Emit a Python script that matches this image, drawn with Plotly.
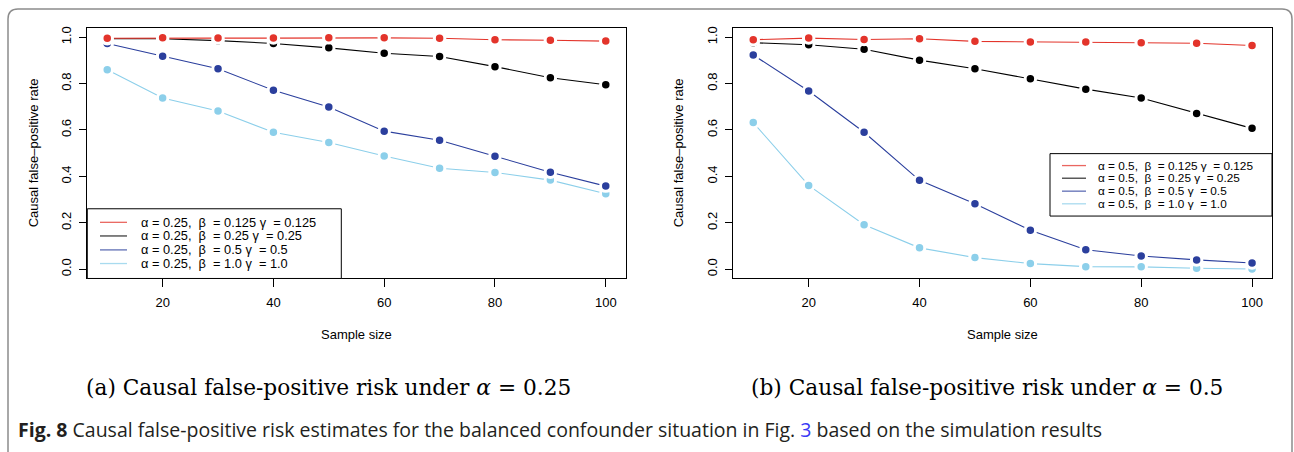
import plotly.graph_objects as go

# Figure size in pixels
W, H = 1294, 452

# ---------------- data ----------------
sample_size = [10, 20, 30, 40, 50, 60, 70, 80, 90, 100]
x_ticks = [20, 40, 60, 80, 100]
y_ticks = [0.0, 0.2, 0.4, 0.6, 0.8, 1.0]
y_tick_labels = ["0.0", "0.2", "0.4", "0.6", "0.8", "1.0"]

# Panel (a): alpha = 0.25
fpr_a25_b0125 = [0.995, 0.997, 0.996, 0.996, 0.998, 0.997, 0.995, 0.989, 0.987, 0.983]
fpr_a25_b025 = [0.993, 0.993, 0.985, 0.973, 0.954, 0.931, 0.917, 0.873, 0.825, 0.795]
fpr_a25_b05 = [0.973, 0.918, 0.864, 0.771, 0.699, 0.595, 0.556, 0.487, 0.418, 0.358]
fpr_a25_b1 = [0.860, 0.738, 0.682, 0.590, 0.546, 0.488, 0.435, 0.417, 0.384, 0.325]

# Panel (b): alpha = 0.5
fpr_a5_b0125 = [0.989, 0.996, 0.990, 0.993, 0.982, 0.979, 0.979, 0.976, 0.974, 0.964]
fpr_a5_b025 = [0.976, 0.967, 0.948, 0.901, 0.864, 0.821, 0.776, 0.738, 0.671, 0.607]
fpr_a5_b05 = [0.923, 0.768, 0.590, 0.383, 0.282, 0.168, 0.084, 0.057, 0.040, 0.027]
fpr_a5_b1 = [0.632, 0.361, 0.192, 0.092, 0.050, 0.024, 0.011, 0.010, 0.004, 0.001]

NB = "\u00a0"
labels_a = [
    f"α = 0.25,{NB*2}β{NB*2}= 0.125 γ{NB*2}= 0.125",
    f"α = 0.25,{NB*2}β{NB*2}= 0.25 γ{NB*2}= 0.25",
    f"α = 0.25,{NB*2}β{NB*2}= 0.5 γ{NB*2}= 0.5",
    f"α = 0.25,{NB*2}β{NB*2}= 1.0 γ{NB*2}= 1.0",
]
labels_b = [
    f"α = 0.5,{NB*2}β{NB*2}= 0.125 γ{NB*2}= 0.125",
    f"α = 0.5,{NB*2}β{NB*2}= 0.25 γ{NB*2}= 0.25",
    f"α = 0.5,{NB*2}β{NB*2}= 0.5 γ{NB*2}= 0.5",
    f"α = 0.5,{NB*2}β{NB*2}= 1.0 γ{NB*2}= 1.0",
]
colors = ["#e3342b", "#000000", "#2b3f9d", "#8ccfea"]

series_a = [fpr_a25_b0125, fpr_a25_b025, fpr_a25_b05, fpr_a25_b1]
series_b = [fpr_a5_b0125, fpr_a5_b025, fpr_a5_b05, fpr_a5_b1]

FONT = "Liberation Sans, Arial, sans-serif"


def px(x):
    return x / W


def py(y):
    return 1 - y / H


fig = go.Figure()

# draw order: light blue first, red last
for axis_id, series in (("", series_a), ("2", series_b)):
    for i in (3, 2, 1, 0):
        fig.add_trace(go.Scatter(
            x=sample_size, y=series[i], mode="lines+markers",
            xaxis="x" + axis_id, yaxis="y" + axis_id,
            line=dict(color=colors[i], width=1.1),
            marker=dict(color=colors[i], size=10.5, line=dict(color="white", width=3)),
            showlegend=False, hoverinfo="x+y",
        ))

axis_common = dict(
    showline=True, mirror=True, linecolor="black", linewidth=1,
    showgrid=False, zeroline=False, ticks="outside", tickcolor="black",
    tickfont=dict(family=FONT, size=13, color="black"),
)

x_dom_a = [px(87.3), px(625.7)]
x_dom_b = [px(733.3), px(1272.0)]
y_dom = [py(277.7), py(26.0)]

fig.update_layout(
    width=W, height=H,
    margin=dict(l=0, r=0, t=0, b=0),
    paper_bgcolor="white", plot_bgcolor="white",
    xaxis=dict(domain=x_dom_a, range=[6.4, 103.6], tickvals=x_ticks, ticklen=8,
               ticklabelstandoff=4, anchor="y", **axis_common),
    yaxis=dict(domain=y_dom, range=[-0.04, 1.04], tickvals=y_ticks, ticktext=y_tick_labels,
               tickangle=-90, ticklen=7, ticklabelstandoff=3, anchor="x", **axis_common),
    xaxis2=dict(domain=x_dom_b, range=[6.4, 103.6], tickvals=x_ticks, ticklen=8,
                ticklabelstandoff=4, anchor="y2", **axis_common),
    yaxis2=dict(domain=y_dom, range=[-0.04, 1.04], tickvals=y_ticks, ticktext=y_tick_labels,
                tickangle=-90, ticklen=7, ticklabelstandoff=3, anchor="x2", **axis_common),
)

shapes = []
annotations = []

# outer rounded frame, open at the bottom
fl, fr, ft, r = 8, 1292, 7, 10
frame_path = (
    f"M {px(fl)} {py(H + 5)} L {px(fl)} {py(ft + r)} "
    f"Q {px(fl)} {py(ft)} {px(fl + r)} {py(ft)} "
    f"L {px(fr - r)} {py(ft)} "
    f"Q {px(fr)} {py(ft)} {px(fr)} {py(ft + r)} "
    f"L {px(fr)} {py(H + 5)}"
)
shapes.append(dict(type="path", xref="paper", yref="paper", path=frame_path,
                   line=dict(color="#8c8c8c", width=1.5)))


def add_legend(box, line_x, text_x, rows, labels, font_size):
    x0, y0, x1, y1 = box
    shapes.append(dict(type="rect", xref="paper", yref="paper",
                       x0=px(x0), x1=px(x1), y0=py(y1), y1=py(y0),
                       line=dict(color="black", width=1), fillcolor="white"))
    for i, (yy, lab) in enumerate(zip(rows, labels)):
        shapes.append(dict(type="line", xref="paper", yref="paper",
                           x0=px(line_x[0]), x1=px(line_x[1]), y0=py(yy), y1=py(yy),
                           line=dict(color=colors[i], width=1.3), opacity=0.75))
        annotations.append(dict(xref="paper", yref="paper", x=px(text_x), y=py(yy),
                                xanchor="left", yanchor="middle", showarrow=False,
                                text=lab, font=dict(family=FONT, size=font_size, color="black")))


add_legend((87.3, 207.7, 341.3, 277.7), (100, 127), 139, [221.3, 235.0, 249.0, 262.7], labels_a, 12.8)
add_legend((1050.0, 152.3, 1272.0, 215.0), (1062, 1086), 1096, [164.3, 177.0, 190.0, 202.7], labels_b, 11.8)

# axis titles
for cx, ty_x in ((356.5, 33.0), (1002.6, 678.0)):
    annotations.append(dict(xref="paper", yref="paper", x=px(cx), y=py(334), showarrow=False,
                            xanchor="center", yanchor="middle", text="Sample size",
                            font=dict(family=FONT, size=13, color="black")))
    annotations.append(dict(xref="paper", yref="paper", x=px(ty_x), y=py(152), showarrow=False,
                            xanchor="center", yanchor="middle", textangle=-90,
                            text="Causal false\u2013positive rate",
                            font=dict(family=FONT, size=13, color="black")))

# sub-figure captions
SERIF = "DejaVu Serif, Liberation Serif, serif"
annotations.append(dict(xref="paper", yref="paper", x=px(328.5), y=py(387), showarrow=False,
                        xanchor="center", yanchor="middle",
                        text="(a) Causal false-positive risk under <i>α</i> = 0.25",
                        font=dict(family=SERIF, size=21.7, color="black")))
annotations.append(dict(xref="paper", yref="paper", x=px(987), y=py(387), showarrow=False,
                        xanchor="center", yanchor="middle",
                        text="(b) Causal false-positive risk under <i>α</i> = 0.5",
                        font=dict(family=SERIF, size=21.7, color="black")))

# figure caption
annotations.append(dict(xref="paper", yref="paper", x=px(16), y=py(429), showarrow=False,
                        xanchor="left", yanchor="middle",
                        text="<b>Fig. 8</b> Causal false-positive risk estimates for the balanced "
                             "confounder situation in Fig. <span style='color:#3b3bf5'>3</span> "
                             "based on the simulation results",
                        font=dict(family="Open Sans, Noto Sans, sans-serif", size=19.5, color="#231f20")))

fig.update_layout(shapes=shapes, annotations=annotations)

fig.write_html("out.html")
